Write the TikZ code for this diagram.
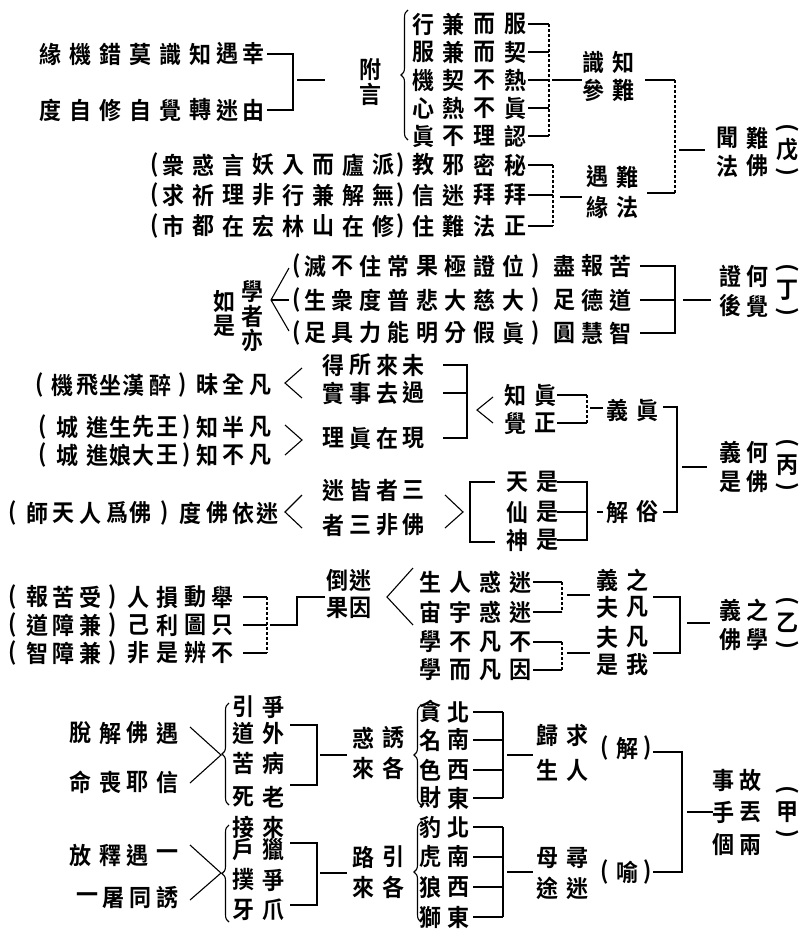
\documentclass[tikz,border=0pt]{standalone}
\usepackage{fontspec}
\newfontfamily\cjk{Noto Sans CJK TC}[BoldFont=* Bold]
\usetikzlibrary{decorations.pathreplacing}
\newcommand{\crow}[3]{\foreach \xx/\cc [count=\i] in {#3}{\node[ch] (#1-\i) at (\xx,#2) {\cc};}}
\begin{document}
\begin{tikzpicture}[x=1pt,y=-1pt,
  ch/.style={font=\cjk\bfseries\fontsize{22}{22}\selectfont, inner sep=0pt, anchor=center, yscale=1.08},
  vp/.style={ch, rotate=-90},
  ln/.style={line width=1.1pt},
  dl/.style={line width=1.1pt, densely dashed},
  brc/.style={line width=1.1pt, decorate, decoration={brace, amplitude=7pt}}]
\useasboundingbox[fill=white] (0,0) rectangle (801,937);

% ================= (wu) =================
\crow{wuA}{24}{423/行,453/兼,484/而,515/服}
\crow{wuB}{52}{423/服,453/兼,484/而,515/契}
\crow{wuC}{80}{423/機,453/契,484/不,515/熱}
\crow{wuD}{108}{423/心,453/熱,484/不,515/眞}
\crow{wuE}{136}{423/眞,453/不,484/理,515/認}
\crow{wuF}{165}{155/(,173/衆,203/惑,233/言,263/妖,293/入,323/而,353/廬,383/派,401/),423/教,453/邪,484/密,515/秘}
\crow{wuG}{195}{155/(,173/求,203/祈,233/理,263/非,293/行,323/兼,353/解,383/無,401/),423/信,453/迷,484/拜,515/拜}
\crow{wuH}{226}{155/(,173/市,203/都,233/在,263/宏,293/林,323/山,353/在,383/修,401/),423/住,453/難,484/法,515/正}
\foreach \r in {wuA,wuB,wuC,wuD,wuE}{\draw[ln] ([xshift=2pt]\r-4.east) -- (549,0 |- \r-4.center);}
\foreach \r in {wuF,wuG,wuH}{\draw[ln] ([xshift=2pt]\r-14.east) -- (553,0 |- \r-14.center);}
\draw[dl] (549,24) -- (549,136);
\draw[ln] (552,80) -- (582,80);
\crow{wuK}{62}{593/識,623/知}
\crow{wuL}{90}{593/參,623/難}
\draw[ln] (645,80) -- (675,80);
\draw[dl] (675,80) -- (675,193);
\draw[ln] (647,193) -- (675,193);
\draw[ln] (679,150) -- (705,150);
\crow{wuM}{177}{597/遇,627/難}
\crow{wuN}{207}{597/緣,627/法}
\draw[ln] (560,197) -- (582,197);
\draw[dl] (553,165) -- (553,226);
% root
\node[vp] (wuP1) at (787,128) {(};
\node[ch] (wuP2) at (787,150) {戊};
\node[vp] (wuP3) at (787,172) {)};
\crow{wuR1}{138}{727/聞,757/難}
\crow{wuR2}{166}{727/法,757/佛}
% appendix
\crow{fyA}{54}{50/緣,80/機,110/錯,140/莫,170/識,200/知,227/遇,253/幸}
\crow{fyB}{110}{50/度,80/自,110/修,140/自,170/覺,200/轉,227/迷,253/由}
\draw[ln] ([xshift=3pt]fyA-8.east) -| (293,110) -- ([xshift=3pt]fyB-8.east);
\draw[ln] (297,80) -- (325,80);
\node[ch] (fy1) at (370,70) {附};
\node[ch] (fy2) at (370,94) {言};
\draw[brc] (408,140) -- (408,10);

% ================= (ding) =================
\node[vp] (dP1) at (787,268) {(};
\node[ch] (dP2) at (787,290) {丁};
\node[vp] (dP3) at (787,312) {)};
\crow{dR1}{276}{730/證,757/何}
\crow{dR2}{306}{730/後,757/覺}
\draw[ln] (683,300) -- (711,300);
\draw[ln] (640,266) -| (675,333) -- (640,333);
\draw[ln] (640,300) -- (675,300);
\crow{dA}{266}{297/(,315/滅,342/不,370/住,398/常,427/果,455/極,484/證,513/位,536/),564/盡,592/報,620/苦}
\crow{dB}{300}{297/(,315/生,342/衆,370/度,398/普,427/悲,455/大,484/慈,513/大,536/),564/足,592/德,620/道}
\crow{dC}{333}{297/(,315/足,342/具,370/力,398/能,427/明,455/分,484/假,513/眞,536/),564/圓,592/慧,620/智}
\coordinate (dF) at (271,300);
\draw[ln] (289,268) -- (dF) -- (289,331);
\draw[ln] (289,300) -- (dF);
\node[ch] (dS1) at (252,292) {學};
\node[ch] (dS2) at (252,316) {者};
\node[ch] (dS3) at (252,340) {亦};
\node[ch] (dS4) at (224,302) {如};
\node[ch] (dS5) at (224,326) {是};

% ================= (bing) =================
\node[vp] (bP1) at (787,443) {(};
\node[ch] (bP2) at (787,465) {丙};
\node[vp] (bP3) at (787,487) {)};
\crow{bR1}{452}{730/義,757/何}
\crow{bR2}{482}{730/是,757/佛}
\draw[ln] (682,467) -- (707,467);
\draw[ln] (663,407) -| (677,512) -- (663,512);
\crow{bZ}{410}{617/義,647/眞}
\crow{bS}{512}{617/解,647/俗}
\draw[ln] (590,408) -- (603,408);
\draw[dl] (587,395) -- (587,423);
\draw[ln] (557,395) -- (587,395);
\draw[ln] (557,423) -- (587,423);
\crow{bZa}{395}{515/知,545/眞}
\crow{bZb}{423}{515/覺,545/正}
\draw[ln] (493,397) -- (477,410) -- (493,423);
\draw[ln] (443,365) -| (467,438) -- (443,438);
\draw[ln] (443,393) -- (467,393);
\crow{bA}{365}{333/得,360/所,387/來,413/未}
\crow{bB}{393}{333/實,360/事,387/去,413/過}
\crow{bC}{438}{333/理,360/眞,387/在,413/現}
\draw[ln] (302,368) -- (285,383) -- (302,398);
\crow{bD}{385}{40/(,62/機,87/飛,110/坐,133/漢,160/醉,183/),207/昧,233/全,260/凡}
\draw[ln] (285,425) -- (302,440) -- (285,455);
\crow{bE}{427}{43/(,67/城,97/進,120/生,143/先,167/王,187/),207/知,233/半,260/凡}
\crow{bF}{455}{43/(,67/城,97/進,120/娘,143/大,167/王,187/),207/知,233/不,260/凡}
\draw[ln] (597,512) -- (603,512);
\draw[ln] (557,482) -| (587,540) -- (557,540);
\draw[ln] (557,512) -- (587,512);
\crow{bG}{482}{517/天,547/是}
\crow{bH}{512}{517/仙,547/是}
\crow{bI}{540}{517/神,547/是}
\draw[ln] (495,482) -| (470,542) -- (495,542);
\draw[ln] (445,495) -- (463,512) -- (445,528);
\crow{bJ}{490}{333/迷,360/皆,387/者,413/三}
\crow{bK}{525}{333/者,360/三,387/非,413/佛}
\draw[ln] (302,495) -- (285,512) -- (302,528);
\crow{bL}{513}{13/(,37/師,63/天,90/人,117/爲,140/佛,165/),190/度,217/佛,243/依,267/迷}

% ================= (yi) =================
\node[vp] (yP1) at (787,601) {(};
\node[ch] (yP2) at (787,623) {乙};
\node[vp] (yP3) at (787,645) {)};
\crow{yR1}{610}{730/義,757/之}
\crow{yR2}{640}{730/佛,757/學}
\draw[ln] (687,623) -- (710,623);
\draw[ln] (653,597) -| (680,653) -- (653,653);
\crow{yA}{580}{607/義,637/之}
\crow{yB}{607}{607/夫,637/凡}
\crow{yC}{637}{607/夫,637/凡}
\crow{yD}{665}{607/是,637/我}
\draw[ln] (567,595) -- (590,595);
\draw[ln] (567,653) -- (590,653);
\draw[dl] (562,582) -- (562,612);
\draw[dl] (562,642) -- (562,670);
\foreach \yy in {582,612,642,670}{\draw[ln] (533,\yy) -- (562,\yy);}
\crow{yE}{582}{430/生,460/人,490/惑,520/迷}
\crow{yF}{612}{430/宙,460/宇,490/惑,520/迷}
\crow{yG}{642}{430/學,460/不,490/凡,520/不}
\crow{yH}{670}{430/學,460/而,490/凡,520/因}
\draw[ln] (413,568) -- (387,597) -- (413,625);
\crow{yI}{580}{337/倒,360/迷}
\crow{yJ}{608}{337/果,360/因}
\draw[ln] (325,597) -- (297,597) -- (297,625) -- (270,625);
\draw[dl] (267,597) -- (267,653);
\foreach \yy in {597,625,653}{\draw[ln] (243,\yy) -- (267,\yy);}
\crow{yK}{597}{13/(,37/報,63/苦,90/受,113/),138/人,167/損,195/動,222/舉}
\crow{yL}{625}{13/(,37/道,63/障,90/兼,113/),138/己,167/利,195/圖,222/只}
\crow{yM}{653}{13/(,37/智,63/障,90/兼,113/),138/非,167/是,195/辨,222/不}

% ================= (jia) =================
\node[vp] (jP1) at (787,790) {(};
\node[ch] (jP2) at (787,812) {甲};
\node[vp] (jP3) at (787,834) {)};
\crow{jR1}{780}{723/事,750/故}
\crow{jR2}{812}{723/手,750/丟}
\crow{jR3}{845}{723/個,750/兩}
\draw[ln] (687,812) -- (713,812);
\draw[ln] (653,752) -| (682,872) -- (653,872);
\crow{jX}{748}{605/(,627/解,648/)}
\crow{jY}{872}{605/(,627/喻,648/)}
\crow{jA}{735}{547/歸,577/求}
\crow{jB}{770}{547/生,577/人}
\crow{jC}{858}{547/母,577/尋}
\crow{jD}{888}{547/途,577/迷}
\draw[ln] (507,755) -- (533,755);
\draw[ln] (507,872) -- (533,872);
\draw[ln] (503,712) -- (503,798);
\draw[ln] (503,827) -- (503,917);
\foreach \yy in {712,740,770,798,827,857,887,917}{\draw[ln] (473,\yy) -- (503,\yy);}
\crow{jE1}{712}{430/貪,458/北}
\crow{jE2}{740}{430/名,458/南}
\crow{jE3}{770}{430/色,458/西}
\crow{jE4}{798}{430/財,458/東}
\crow{jE5}{827}{430/豹,458/北}
\crow{jE6}{857}{430/虎,458/南}
\crow{jE7}{887}{430/狼,458/西}
\crow{jE8}{917}{430/獅,458/東}
\draw[brc] (421,805) -- (421,705);
\draw[brc] (421,922) -- (421,822);
\crow{jF}{738}{363/惑,393/誘}
\crow{jG}{768}{363/來,393/各}
\crow{jH}{857}{363/路,393/引}
\crow{jI}{887}{363/來,393/各}
\draw[ln] (320,755) -- (347,755);
\draw[ln] (320,873) -- (347,873);
\draw[ln] (290,725) -| (317,785) -- (290,785);
\draw[ln] (290,843) -| (317,905) -- (290,905);
\crow{jK1}{707}{243/引,273/爭}
\crow{jK2}{733}{243/道,273/外}
\crow{jK3}{763}{243/苦,273/病}
\crow{jK4}{797}{243/死,273/老}
\crow{jK5}{827}{243/接,273/來}
\crow{jK6}{850}{243/戶,273/獵}
\crow{jK7}{880}{243/撲,273/爭}
\crow{jK8}{910}{243/牙,273/爪}
\draw[brc] (229,805) -- (229,703);
\draw[brc] (229,922) -- (229,825);
\coordinate (jT1) at (221,755);
\coordinate (jT2) at (221,873);
\draw[ln] (190,727) -- (jT1) -- (190,783);
\draw[ln] (190,845) -- (jT2) -- (190,900);
\crow{jL}{733}{80/脫,110/解,137/佛,167/遇}
\crow{jM}{782}{80/命,110/喪,137/耶,167/信}
\crow{jN}{855}{80/放,110/釋,137/遇,167/一}
\crow{jO}{898}{87/一,113/屠,140/同,167/誘}
\end{tikzpicture}
\end{document}
